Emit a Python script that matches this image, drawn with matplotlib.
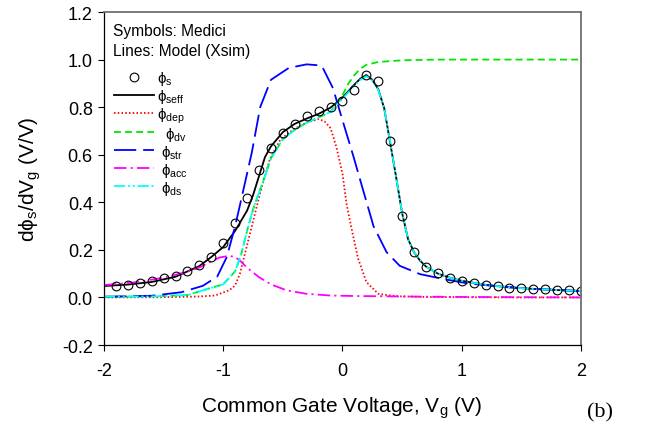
import matplotlib
matplotlib.use("Agg")
import matplotlib.pyplot as plt

plt.rcParams['font.family'] = ['Liberation Sans', 'DejaVu Sans']
plt.rcParams['mathtext.fontset'] = 'custom'
plt.rcParams['mathtext.rm'] = 'Liberation Sans'
plt.rcParams['mathtext.it'] = 'Liberation Sans:italic'
plt.rcParams['lines.scale_dashes'] = False

# ---------------- data ----------------
medici_vg = [-1.9, -1.8, -1.7, -1.6, -1.5, -1.4, -1.3, -1.2, -1.1, -1.0,
             -0.9, -0.8, -0.7, -0.6, -0.5, -0.4, -0.3, -0.2, -0.1, 0.0,
             0.1, 0.2, 0.3, 0.4, 0.5, 0.6, 0.7, 0.8, 0.9, 1.0,
             1.1, 1.2, 1.3, 1.4, 1.5, 1.6, 1.7, 1.8, 1.9, 2.0]
medici_phis = [0.049, 0.053, 0.059, 0.068, 0.080, 0.091, 0.111, 0.138, 0.171, 0.230,
               0.314, 0.419, 0.534, 0.629, 0.690, 0.729, 0.763, 0.782, 0.799, 0.826,
               0.873, 0.936, 0.911, 0.659, 0.344, 0.190, 0.129, 0.101, 0.082, 0.069,
               0.059, 0.052, 0.047, 0.041, 0.038, 0.035, 0.034, 0.031, 0.030, 0.027]

seff_vg = [-2.0, -1.8, -1.6, -1.4, -1.2, -1.1, -1.0, -0.9, -0.8, -0.75, -0.7, -0.65,
           -0.6, -0.5, -0.4, -0.3, -0.2, -0.1, 0.0, 0.1, 0.15, 0.2, 0.25, 0.3, 0.35,
           0.4, 0.45, 0.5, 0.55, 0.6, 0.65, 0.7, 0.8, 0.9, 1.0, 1.2, 1.4, 1.6, 1.8, 2.0]
seff = [0.048, 0.054, 0.065, 0.087, 0.132, 0.170, 0.212, 0.280, 0.365, 0.430, 0.510, 0.590,
        0.635, 0.695, 0.730, 0.752, 0.772, 0.798, 0.840, 0.895, 0.920, 0.935, 0.915, 0.875, 0.795,
        0.650, 0.505, 0.355, 0.245, 0.190, 0.155, 0.130, 0.100, 0.083, 0.070, 0.053, 0.042, 0.036, 0.031, 0.027]

dep_vg = [-2.0, -1.5, -1.2, -1.07, -0.95, -0.9, -0.86, -0.82, -0.76, -0.69, -0.61, -0.52,
          -0.4, -0.3, -0.2, -0.15, -0.1, -0.05, 0.0, 0.035, 0.08, 0.13, 0.2, 0.3, 0.45,
          0.7, 1.0, 1.5, 2.0]
dep = [0.0, 0.001, 0.004, 0.008, 0.030, 0.050, 0.100, 0.180, 0.300, 0.440, 0.580, 0.665,
       0.710, 0.735, 0.750, 0.740, 0.712, 0.630, 0.520, 0.390, 0.280, 0.165, 0.065, 0.015, 0.005,
       0.002, 0.001, 0.0, 0.0]

dv_vg = [-2.0, -1.6, -1.3, -1.15, -1.0, -0.9, -0.85, -0.8, -0.75, -0.7, -0.65, -0.6,
         -0.5, -0.4, -0.3, -0.2, -0.1, 0.0, 0.05, 0.1, 0.15, 0.2, 0.3, 0.5, 0.8, 2.0]
dv = [0.003, 0.004, 0.010, 0.033, 0.055, 0.110, 0.180, 0.280, 0.370, 0.440, 0.510, 0.585,
      0.665, 0.705, 0.735, 0.757, 0.780, 0.850, 0.900, 0.935, 0.962, 0.978, 0.990, 0.997, 1.0, 1.0]

str_vg = [-2.0, -1.6, -1.35, -1.17, -1.05, -0.97, -0.9, -0.85, -0.76, -0.69, -0.6, -0.45,
          -0.3, -0.18, -0.16, -0.08, 0.0, 0.09, 0.17, 0.26, 0.37, 0.48, 0.65, 0.85, 1.05,
          1.3, 1.6, 2.0]
phi_str = [0.003, 0.007, 0.022, 0.049, 0.088, 0.170, 0.300, 0.410, 0.610, 0.800, 0.915, 0.965,
           0.980, 0.975, 0.960, 0.880, 0.745, 0.596, 0.456, 0.300, 0.190, 0.133, 0.098, 0.077, 0.059,
           0.047, 0.036, 0.027]

acc_vg = [-2.0, -1.75, -1.5, -1.3, -1.2, -1.1, -1.03, -0.95, -0.9, -0.86, -0.8, -0.7,
          -0.6, -0.47, -0.3, -0.1, 0.1, 0.5, 1.0, 1.5, 2.0]
acc = [0.052, 0.063, 0.083, 0.108, 0.126, 0.152, 0.168, 0.175, 0.170, 0.155, 0.125, 0.085,
       0.055, 0.030, 0.015, 0.008, 0.006, 0.004, 0.002, 0.001, 0.0]

ds_vg = [-2.0, -1.6, -1.3, -1.15, -1.0, -0.9, -0.85, -0.8, -0.75, -0.7, -0.65, -0.6,
         -0.5, -0.4, -0.3, -0.2, -0.1, 0.0, 0.1, 0.15, 0.2, 0.25, 0.3, 0.35, 0.4, 0.45,
         0.5, 0.55, 0.6, 0.7, 0.8, 0.9, 1.0, 1.2, 1.4, 1.6, 1.8, 2.0]
ds = [0.003, 0.004, 0.010, 0.033, 0.055, 0.110, 0.180, 0.280, 0.370, 0.440, 0.510, 0.585,
      0.665, 0.705, 0.735, 0.757, 0.780, 0.835, 0.890, 0.915, 0.930, 0.912, 0.872, 0.795, 0.655,
      0.505, 0.355, 0.245, 0.190, 0.130, 0.100, 0.083, 0.070, 0.053, 0.042, 0.036, 0.031, 0.027]

xticks = [-2, -1, 0, 1, 2]
yticks = [-0.2, 0.0, 0.2, 0.4, 0.6, 0.8, 1.0, 1.2]

# ---------------- figure ----------------
fig = plt.figure(figsize=(6.47, 4.31), dpi=100)
ax = fig.add_axes([0.1607, 0.1972, 0.7373, 0.7726])

lw = 1.3
h_seff, = ax.plot(seff_vg, seff, color='black', lw=lw, label=r'ϕ$_{\mathrm{seff}}$')
h_dep, = ax.plot(dep_vg, dep, color='#ff0000', lw=lw, dashes=(1.1, 1.6), label=r'ϕ$_{\mathrm{dep}}$')
h_dv, = ax.plot(dv_vg, dv, color='#00e600', lw=lw, dashes=(5, 3), label=r'  ϕ$_{\mathrm{dv}}$')
h_str, = ax.plot(str_vg, phi_str, color='#0000ff', lw=lw, dashes=(16, 5), label=r' ϕ$_{\mathrm{str}}$')
h_acc, = ax.plot(acc_vg, acc, color='#ff00ff', lw=lw, dashes=(9, 3, 1.5, 3), label=r' ϕ$_{\mathrm{acc}}$')
h_ds, = ax.plot(ds_vg, ds, color='#00ffff', lw=lw, dashes=(8, 2, 1.5, 2, 1.5, 2), label=r' ϕ$_{\mathrm{ds}}$')
h_s, = ax.plot(medici_vg, medici_phis, linestyle='none', marker='o', markersize=6.3,
               markerfacecolor='none', markeredgecolor='black', markeredgewidth=0.8,
               label=r'ϕ$_{\mathrm{s}}$')

ax.set_xlim(-2, 2)
ax.set_ylim(-0.2, 1.2)
ax.set_xticks(xticks)
ax.set_xticklabels([str(t) for t in xticks])
ax.set_yticks(yticks)
ax.set_yticklabels([f'{t:.1f}' for t in yticks])

ax.tick_params(axis='both', direction='out', length=4, width=0.8, labelsize=13, colors='black')
ax.tick_params(axis='x', pad=8)
ax.tick_params(axis='y', pad=4)
ax.tick_params(top=False, right=False)
for s in ['left', 'bottom']:
    ax.spines[s].set_color('black')
    ax.spines[s].set_linewidth(0.9)
for s in ['top', 'right']:
    ax.spines[s].set_color('#707070')
    ax.spines[s].set_linewidth(1.3)

ax.set_xlabel(r'Common Gate Voltage, V$_{\mathrm{g}}$ (V)', fontsize=15)
ax.xaxis.set_label_coords(0.499, -0.148)
ax.set_ylabel(r'dϕ$_{\mathrm{s}}$/dV$_{\mathrm{g}}$ (V/V)', fontsize=15)
ax.yaxis.set_label_coords(-0.128, 0.5)

ax.text(0.019, 0.944, 'Symbols: Medici', transform=ax.transAxes, fontsize=11.2,
        ha='left', va='center')
ax.text(0.019, 0.884, 'Lines: Model (Xsim)', transform=ax.transAxes, fontsize=11.2,
        ha='left', va='center')

leg = ax.legend(handles=[h_s, h_seff, h_dep, h_dv, h_str, h_acc, h_ds],
                loc='upper left', bbox_to_anchor=(0.02, 0.828), frameon=False,
                fontsize=10.8, handlelength=2.7, handletextpad=0.2,
                labelspacing=0.0, borderpad=0, borderaxespad=0)

fig.text(0.928, 0.042, '(b)', fontsize=16, family='Liberation Serif', ha='center', va='center')

fig.savefig('out.png', dpi=100)
